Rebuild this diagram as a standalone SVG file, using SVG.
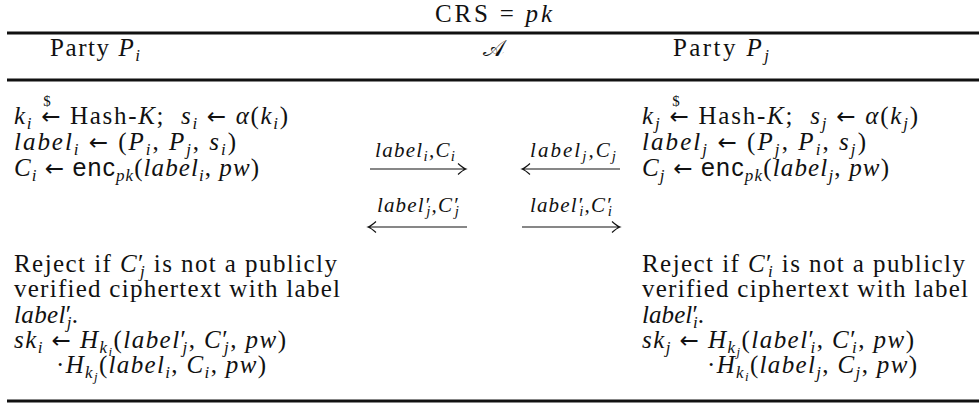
<svg xmlns="http://www.w3.org/2000/svg" width="979" height="414" viewBox="0 0 979 414">
<style>
text{font-family:"Liberation Serif","DejaVu Serif",serif;font-size:25px;fill:#111}
.i{font-style:italic}
.s{font-size:17px}
.ss{font-size:13px}
.sf{font-family:"Liberation Sans","DejaVu Sans",sans-serif}
.ar{font-family:"DejaVu Sans",sans-serif;font-size:23px;font-style:normal}
.lab{font-size:21px;font-style:italic}
.lab .s{font-size:15px}
.dol{font-size:15px}
.rule{stroke:#111;stroke-width:2.8}
.arr{stroke:#111;stroke-width:1.1;fill:none}
</style>
<rect width="979" height="414" fill="#fff"/>
<g id="header">
<text x="435" y="22" textLength="117">CRS = <tspan class="i">pk</tspan></text>
<line class="rule" x1="7" y1="33" x2="979" y2="33"/>
<text x="50" y="56" textLength="90">Party <tspan class="i">P</tspan><tspan class="i s" dy="5">i</tspan></text>
<text x="483" y="56" style="font-size:23px">𝒜</text>
<text x="673" y="56" textLength="96">Party <tspan class="i">P</tspan><tspan class="i s" dy="5">j</tspan></text>
<line class="rule" x1="7" y1="80" x2="979" y2="80"/>
</g>
<g id="party-i">
<text x="14" y="124" textLength="274"><tspan class="i">k</tspan><tspan class="i s" dy="5">i</tspan><tspan dy="-5"> </tspan><tspan class="ar">←</tspan> Hash-<tspan class="i">K</tspan>;&#160; <tspan class="i">s</tspan><tspan class="i s" dy="5">i</tspan><tspan dy="-5"> </tspan><tspan class="ar">←</tspan> <tspan class="i">α</tspan>(<tspan class="i">k</tspan><tspan class="i s" dy="5">i</tspan><tspan dy="-5">)</tspan></text>
<text x="47" y="106" class="dol" text-anchor="middle">$</text>
<text x="14" y="150" textLength="222"><tspan class="i">label</tspan><tspan class="i s" dy="5">i</tspan><tspan dy="-5"> </tspan><tspan class="ar">←</tspan> (<tspan class="i">P</tspan><tspan class="i s" dy="5">i</tspan><tspan dy="-5">, </tspan><tspan class="i">P</tspan><tspan class="i s" dy="5">j</tspan><tspan dy="-5">, </tspan><tspan class="i">s</tspan><tspan class="i s" dy="5">i</tspan><tspan dy="-5">)</tspan></text>
<text x="14" y="176" textLength="245"><tspan class="i">C</tspan><tspan class="i s" dy="5">i</tspan><tspan dy="-5"> </tspan><tspan class="ar">←</tspan> <tspan class="sf">enc</tspan><tspan class="i s" dy="5">pk</tspan><tspan dy="-5">(</tspan><tspan class="i">label</tspan><tspan class="i s" dy="5">i</tspan><tspan dy="-5">, </tspan><tspan class="i">pw</tspan>)</text>
<text x="14" y="272" textLength="323">Reject if <tspan class="i">C</tspan>′<tspan class="i s" dx="-5" dy="5">j</tspan><tspan dy="-5"> is not a publicly</tspan></text>
<text x="14" y="297" textLength="326">verified ciphertext with label</text>
<text x="14" y="323" textLength="64"><tspan class="i">label</tspan>′<tspan class="i s" dx="-5" dy="5">j</tspan><tspan dy="-5">.</tspan></text>
<text x="14" y="348" textLength="272"><tspan class="i">sk</tspan><tspan class="i s" dy="5">i</tspan><tspan dy="-5"> </tspan><tspan class="ar">←</tspan> <tspan class="i">H</tspan><tspan class="i s" dy="5">k</tspan><tspan class="i ss" dy="3">i</tspan><tspan dy="-8">(</tspan><tspan class="i">label</tspan>′<tspan class="i s" dx="-5" dy="5">j</tspan><tspan dy="-5">, </tspan><tspan class="i">C</tspan>′<tspan class="i s" dx="-5" dy="5">j</tspan><tspan dy="-5">, </tspan><tspan class="i">pw</tspan>)</text>
<text x="56" y="373" textLength="210">·<tspan class="i">H</tspan><tspan class="i s" dy="5">k</tspan><tspan class="i ss" dy="3">j</tspan><tspan dy="-8">(</tspan><tspan class="i">label</tspan><tspan class="i s" dy="5">i</tspan><tspan dy="-5">, </tspan><tspan class="i">C</tspan><tspan class="i s" dy="5">i</tspan><tspan dy="-5">, </tspan><tspan class="i">pw</tspan>)</text>
</g>
<g id="party-j">
<text x="642" y="124" textLength="276"><tspan class="i">k</tspan><tspan class="i s" dy="5">j</tspan><tspan dy="-5"> </tspan><tspan class="ar">←</tspan> Hash-<tspan class="i">K</tspan>;&#160; <tspan class="i">s</tspan><tspan class="i s" dy="5">j</tspan><tspan dy="-5"> </tspan><tspan class="ar">←</tspan> <tspan class="i">α</tspan>(<tspan class="i">k</tspan><tspan class="i s" dy="5">j</tspan><tspan dy="-5">)</tspan></text>
<text x="676" y="106" class="dol" text-anchor="middle">$</text>
<text x="642" y="150" textLength="224"><tspan class="i">label</tspan><tspan class="i s" dy="5">j</tspan><tspan dy="-5"> </tspan><tspan class="ar">←</tspan> (<tspan class="i">P</tspan><tspan class="i s" dy="5">j</tspan><tspan dy="-5">, </tspan><tspan class="i">P</tspan><tspan class="i s" dy="5">i</tspan><tspan dy="-5">, </tspan><tspan class="i">s</tspan><tspan class="i s" dy="5">j</tspan><tspan dy="-5">)</tspan></text>
<text x="642" y="176" textLength="247"><tspan class="i">C</tspan><tspan class="i s" dy="5">j</tspan><tspan dy="-5"> </tspan><tspan class="ar">←</tspan> <tspan class="sf">enc</tspan><tspan class="i s" dy="5">pk</tspan><tspan dy="-5">(</tspan><tspan class="i">label</tspan><tspan class="i s" dy="5">j</tspan><tspan dy="-5">, </tspan><tspan class="i">pw</tspan>)</text>
<text x="642" y="272" textLength="323">Reject if <tspan class="i">C</tspan>′<tspan class="i s" dx="-5" dy="5">i</tspan><tspan dy="-5"> is not a publicly</tspan></text>
<text x="642" y="297" textLength="326">verified ciphertext with label</text>
<text x="642" y="323" textLength="62"><tspan class="i">label</tspan>′<tspan class="i s" dx="-5" dy="5">i</tspan><tspan dy="-5">.</tspan></text>
<text x="642" y="348" textLength="272"><tspan class="i">sk</tspan><tspan class="i s" dy="5">j</tspan><tspan dy="-5"> </tspan><tspan class="ar">←</tspan> <tspan class="i">H</tspan><tspan class="i s" dy="5">k</tspan><tspan class="i ss" dy="3">j</tspan><tspan dy="-8">(</tspan><tspan class="i">label</tspan>′<tspan class="i s" dx="-5" dy="5">i</tspan><tspan dy="-5">, </tspan><tspan class="i">C</tspan>′<tspan class="i s" dx="-5" dy="5">i</tspan><tspan dy="-5">, </tspan><tspan class="i">pw</tspan>)</text>
<text x="707" y="373" textLength="210">·<tspan class="i">H</tspan><tspan class="i s" dy="5">k</tspan><tspan class="i ss" dy="3">i</tspan><tspan dy="-8">(</tspan><tspan class="i">label</tspan><tspan class="i s" dy="5">j</tspan><tspan dy="-5">, </tspan><tspan class="i">C</tspan><tspan class="i s" dy="5">j</tspan><tspan dy="-5">, </tspan><tspan class="i">pw</tspan>)</text>
</g>
<line class="rule" x1="7" y1="401" x2="979" y2="401"/>
<g id="connectors">
<path class="arr" d="M370 169H466M458 163.5Q463 168 466 169Q463 170 458 174.5"/>
<text class="lab" x="415" y="157" text-anchor="middle" textLength="80">label<tspan class="s" dy="4">i</tspan><tspan dy="-4">,C</tspan><tspan class="s" dy="4">i</tspan></text>
<path class="arr" d="M522 169H620M530 163.5Q525 168 522 169Q525 170 530 174.5"/>
<text class="lab" x="573" y="157" text-anchor="middle" textLength="86">label<tspan class="s" dy="4">j</tspan><tspan dy="-4">,C</tspan><tspan class="s" dy="4">j</tspan></text>
<path class="arr" d="M368 227H467M376 221.5Q371 226 368 227Q371 228 376 232.5"/>
<text class="lab" x="418" y="212" text-anchor="middle" textLength="82">label′<tspan class="s" dx="-4" dy="4">j</tspan><tspan dy="-4">,C′</tspan><tspan class="s" dx="-4" dy="4">j</tspan></text>
<path class="arr" d="M522 227H620M612 221.5Q617 226 620 227Q617 228 612 232.5"/>
<text class="lab" x="571" y="212" text-anchor="middle" textLength="82">label′<tspan class="s" dx="-4" dy="4">i</tspan><tspan dy="-4">,C′</tspan><tspan class="s" dx="-4" dy="4">i</tspan></text>
</g>
</svg>
